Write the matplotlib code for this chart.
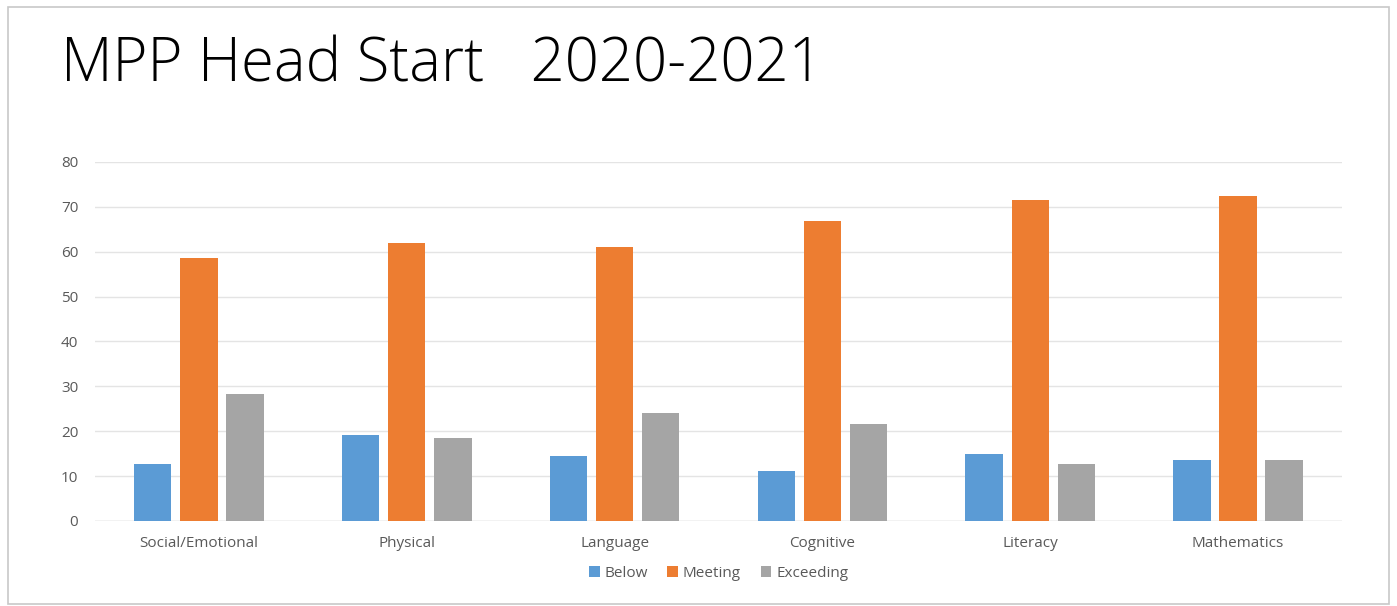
import numpy as np
import matplotlib
matplotlib.use('Agg')
import matplotlib.pyplot as plt
from matplotlib.patches import Rectangle

# data
categories = ['Social/Emotional', 'Physical', 'Language', 'Cognitive', 'Literacy', 'Mathematics']
below = [12.7, 19.2, 14.4, 11.1, 15.0, 13.5]
meeting = [58.7, 62.0, 61.1, 66.9, 71.6, 72.4]
exceeding = [28.2, 18.4, 24.1, 21.7, 12.6, 13.5]
yticks = [0, 10, 20, 30, 40, 50, 60, 70, 80]

colors = ['#5B9BD5', '#ED7D31', '#A5A5A5']
labels = ['Below', 'Meeting', 'Exceeding']

plt.rcParams['font.family'] = ['Open Sans', 'DejaVu Sans']

fig = plt.figure(figsize=(13.97, 6.06), dpi=100)
ax = fig.add_axes([0.068, 0.1403, 0.8926, 0.5924])

x = np.arange(len(categories))
w = 0.18
off = 0.222
for i, series in enumerate([below, meeting, exceeding]):
    ax.bar(x + (i - 1) * off, series, width=w, color=colors[i], label=labels[i], zorder=3)

ax.set_xlim(-0.5, len(categories) - 0.5)
ax.set_ylim(0, 80)
ax.set_yticks(yticks)
ax.set_xticks(x)
ax.set_xticklabels(categories)
ax.tick_params(axis='both', length=0, labelsize=11, colors='#595959')
ax.tick_params(axis='x', pad=11)
ax.tick_params(axis='y', pad=12)
ax.grid(axis='y', color='#E4E4E4', linewidth=1, zorder=0)
for s in ax.spines.values():
    s.set_visible(False)
ax.axhline(0, color='#D9D9D9', linewidth=1, zorder=2)

ax.legend(loc='center', bbox_to_anchor=(0.5, -0.145), ncol=3, frameon=False,
          fontsize=11, handlelength=0.7, handleheight=0.7, handletextpad=0.3,
          columnspacing=1.3, labelcolor='#595959')

fig.text(0.044, 0.865, 'MPP Head Start   2020-2021', fontsize=43, fontweight='light',
         color='black', va='baseline', ha='left')

# outer frame of the slide
fig.patches.append(Rectangle((0.006, 0.004), 0.988, 0.985, transform=fig.transFigure,
                             fill=False, edgecolor='#C8C8C8', linewidth=1.2))

fig.savefig('out.png', dpi=100)
